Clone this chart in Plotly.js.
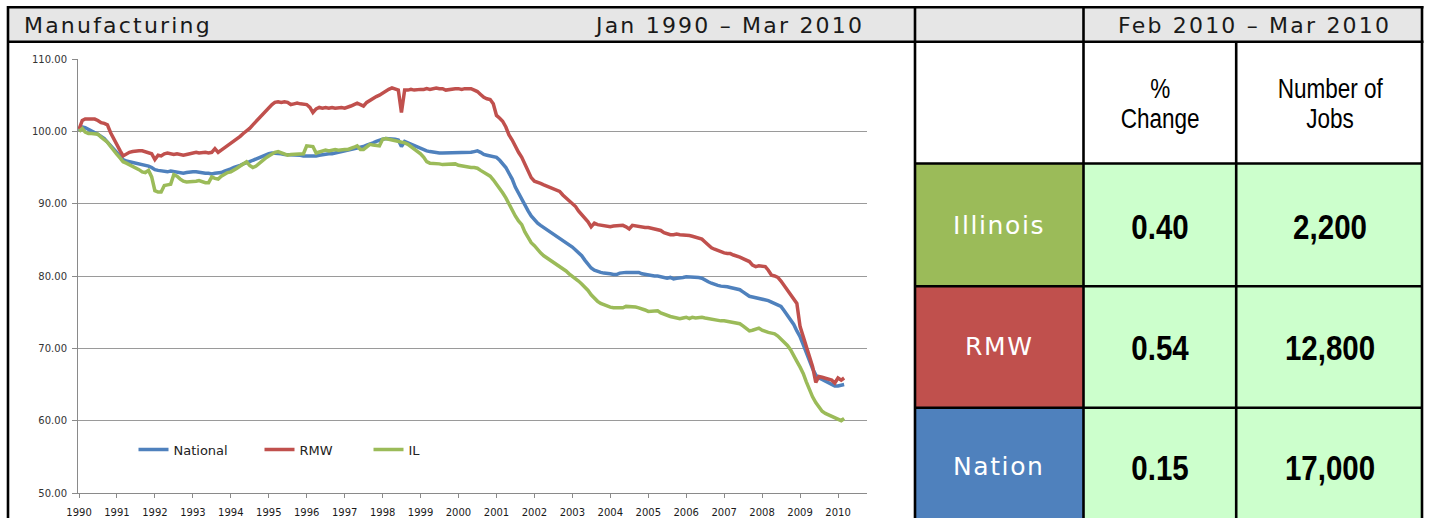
<!DOCTYPE html>
<html><head><meta charset="utf-8">
<script src="https://cdn.plot.ly/plotly-3.0.1.min.js"></script>
<style>html,body{margin:0;padding:0;background:#fff;} #chart{width:1434px;height:518px;}</style>
</head><body><div id="chart"></div>
<script>
// ---------- DATA ----------
const chartTitle = 'Manufacturing';
const chartPeriod = 'Jan 1990 – Mar 2010';
const tablePeriod = 'Feb 2010 – Mar 2010';
const seriesNames = ['National', 'RMW', 'IL'];
const yearTicks = ['1990','1991','1992','1993','1994','1995','1996','1997','1998','1999','2000','2001','2002','2003','2004','2005','2006','2007','2008','2009','2010'];
const yTicks = [50, 60, 70, 80, 90, 100, 110];
const startYear = 1990;

const national = [
100.0,100.6,100.5,100.3,100.1,99.9,99.6,99.3,99.0,98.5,98.0,97.5,
96.9,96.4,96.1,95.9,95.8,95.8,95.7,95.6,95.5,95.4,95.2,95.0,
94.7,94.6,94.5,94.4,94.4,94.5,94.4,94.3,94.2,94.2,94.3,94.4,
94.4,94.4,94.3,94.2,94.2,94.2,94.1,94.2,94.2,94.3,94.5,94.6,
94.8,95.0,95.2,95.3,95.5,95.6,95.8,96.0,96.2,96.3,96.5,96.7,
96.9,97.0,97.0,97.0,96.9,96.8,96.8,96.7,96.8,96.7,96.7,96.6,
96.6,96.5,96.6,96.6,96.7,96.8,96.8,96.9,96.9,97.0,97.0,97.1,
97.2,97.3,97.4,97.5,97.6,97.7,97.9,98.1,98.2,98.4,98.6,98.8,
98.9,99.0,99.0,99.0,98.9,98.8,97.9,98.6,98.4,98.2,98.0,97.8,
97.6,97.5,97.3,97.2,97.1,97.0,97.0,97.0,97.0,97.0,97.1,97.0,
97.0,97.1,97.1,97.1,97.1,97.2,97.3,97.1,96.8,96.7,96.6,96.5,
96.4,96.0,95.6,95.0,94.2,93.4,92.3,91.4,90.6,89.8,89.0,88.3,
87.7,87.3,87.0,86.7,86.4,86.1,85.9,85.5,85.2,84.9,84.6,84.3,
84.0,83.6,83.2,82.8,82.2,81.6,81.1,80.8,80.6,80.5,80.4,80.4,
80.3,80.2,80.2,80.4,80.5,80.5,80.5,80.5,80.5,80.5,80.3,80.2,
80.2,80.1,80.0,80.0,79.9,79.8,79.7,79.8,79.6,79.7,79.7,79.8,
79.9,79.9,79.9,79.9,79.8,79.7,79.4,79.2,79.0,78.8,78.7,78.6,
78.6,78.5,78.4,78.3,78.2,78.1,77.8,77.5,77.2,77.1,77.0,76.9,
76.9,76.8,76.6,76.4,76.2,76.0,75.8,75.2,74.6,74.0,73.3,72.4,
71.6,70.5,69.4,68.2,67.2,66.3,65.9,65.7,65.5,65.2,65.0,64.8,
64.8,64.9,65.0
];

const rmw = [
100.3,101.5,101.7,101.7,101.6,101.7,101.5,101.2,101.1,100.9,99.8,98.9,
98.0,97.3,96.6,96.9,97.1,97.2,97.3,97.3,97.3,97.2,97.0,96.9,
96.1,96.7,96.6,96.9,97.0,96.9,96.8,96.9,96.8,96.7,96.8,96.9,
97.0,97.1,97.0,97.1,97.1,97.0,97.1,97.6,97.1,97.4,97.7,98.0,
98.4,98.7,99.0,99.3,99.7,100.0,100.4,100.9,101.4,101.8,102.3,102.8,
103.3,103.7,104.0,104.1,104.0,104.1,104.0,103.7,103.8,103.9,103.8,103.8,
103.7,103.3,102.6,103.1,103.3,103.2,103.3,103.2,103.3,103.2,103.3,103.3,
103.2,103.3,103.5,103.7,103.9,103.7,103.5,104.0,104.3,104.6,104.8,105.0,
105.3,105.6,105.8,106.0,105.9,105.7,102.6,105.7,105.7,105.8,105.7,105.8,
105.8,105.8,105.9,105.8,105.9,106.0,105.9,105.9,105.7,105.8,105.9,105.9,
105.9,105.8,105.9,105.9,105.9,105.7,105.5,105.1,104.7,104.5,104.4,103.8,
102.2,101.8,101.4,100.6,99.5,98.8,97.9,97.1,96.4,95.4,94.4,93.6,
93.1,93.0,92.8,92.6,92.4,92.2,92.1,91.9,91.7,91.2,90.8,90.5,
90.1,89.6,89.0,88.5,88.0,87.5,86.8,87.3,87.1,87.0,86.9,86.8,
86.8,86.9,86.9,87.0,87.0,86.8,86.5,87.0,86.9,86.8,86.8,86.7,
86.7,86.6,86.6,86.5,86.3,86.0,85.8,85.7,85.7,85.8,85.7,85.7,
85.7,85.6,85.5,85.4,85.3,85.1,84.7,84.3,83.9,83.7,83.5,83.3,
83.2,83.1,83.1,82.9,82.8,82.6,82.4,82.2,82.0,81.5,81.3,81.4,
81.3,81.3,80.8,80.1,80.0,79.8,79.3,78.7,78.0,77.4,76.9,76.2,
73.0,71.5,70.3,68.9,67.5,65.3,66.1,66.0,65.9,65.8,65.6,65.2,
65.9,65.6,65.9
];

const il = [
100.0,100.4,99.9,99.7,99.7,99.7,99.6,99.2,98.9,98.5,97.9,97.3,
96.8,96.3,95.8,95.6,95.4,95.2,95.0,94.7,94.4,94.3,94.6,93.7,
91.8,91.6,91.6,92.5,92.6,92.7,94.0,93.8,93.4,93.1,93.0,93.0,
93.1,93.1,93.2,93.0,92.9,92.9,93.7,93.5,93.4,93.8,94.1,94.3,
94.4,94.6,94.9,95.2,95.5,95.8,95.3,95.0,95.2,95.6,96.0,96.3,
96.6,96.9,97.1,97.2,97.0,96.8,96.7,96.8,96.8,96.9,96.9,96.9,
98.0,97.9,97.9,97.0,97.1,97.3,97.4,97.3,97.4,97.5,97.4,97.5,
97.5,97.5,97.6,97.8,98.0,97.5,97.5,97.9,98.2,98.1,98.0,98.0,
98.9,99.0,98.9,98.8,98.7,98.6,98.6,98.4,98.2,97.9,97.6,97.2,
96.9,96.4,95.8,95.6,95.6,95.5,95.5,95.4,95.4,95.4,95.5,95.5,
95.3,95.2,95.2,95.1,95.0,95.0,94.9,94.6,94.3,94.1,93.8,93.3,
92.7,92.2,91.5,90.8,89.9,89.1,88.3,87.6,87.1,86.1,85.3,84.6,
84.2,83.6,83.2,82.8,82.5,82.2,82.0,81.7,81.4,81.1,80.7,80.3,
80.0,79.6,79.3,78.9,78.5,78.0,77.4,76.9,76.5,76.2,76.0,75.8,
75.7,75.6,75.6,75.5,75.6,75.8,75.8,75.7,75.7,75.6,75.5,75.3,
75.1,75.1,75.2,75.2,74.9,74.7,74.5,74.4,74.3,74.2,74.1,74.2,
74.3,74.1,74.3,74.2,74.3,74.3,74.2,74.1,74.0,73.9,73.9,73.8,
73.8,73.7,73.6,73.6,73.5,73.4,73.1,72.8,72.4,72.5,72.7,72.8,
72.5,72.3,72.2,72.1,72.0,71.7,71.3,70.9,70.4,69.8,69.1,68.2,
67.4,66.5,65.4,64.2,63.3,62.5,61.8,61.3,61.0,60.8,60.6,60.4,
60.1,60.0,60.3
];

const rowLabels = ['Illinois', 'RMW', 'Nation'];
const pctChange = ['0.40', '0.54', '0.15'];
const jobsChange = ['2,200', '12,800', '17,000'];
const pctHeader = ['%', 'Change'];
const jobsHeader = ['Number of', 'Jobs'];

// ---------- BUILD ----------
const months = national.map((_, i) => {
  const y = startYear + Math.floor(i / 12);
  const m = (i % 12) + 1;
  return y + '-' + (m < 10 ? '0' + m : m) + '-01';
});

const colors = ['#4F81BD', '#C0504D', '#9BBB59'];
const legendIds = ['legend', 'legend2', 'legend3'];
const seriesData = [national, rmw, il];
const traces = seriesData.map((vals, k) => ({
  type: 'scatter', mode: 'lines', name: seriesNames[k],
  x: months, y: vals, legend: legendIds[k],
  line: { color: colors[k], width: 3.5 },
  hoverinfo: 'skip'
}));

const W = 1434, H = 518;
const X = p => p / W;
const Y = p => 1 - p / H;

function rect(x0, y0, x1, y1, fill) {
  return { type: 'rect', xref: 'paper', yref: 'paper', x0: X(x0), x1: X(x1), y0: Y(y1), y1: Y(y0),
           fillcolor: fill, line: { width: 0 }, layer: 'below' };
}
function seg(x0, y0, x1, y1) {
  return { type: 'line', xref: 'paper', yref: 'paper', x0: X(x0), x1: X(x1), y0: Y(y0), y1: Y(y1),
           line: { color: '#000', width: 2.6 }, layer: 'above' };
}

const rowTop = [164, 286, 408];
const rowBot = [286, 408, 530];
const rowMid = [226, 347, 467];
const shapes = [
  rect(8, 7, 1422, 42, '#E6E6E6'),
  rect(1083, 164, 1422, 530, '#CCFFCC'),
];
rowLabels.forEach((_, i) => shapes.push(rect(915, rowTop[i], 1083, rowBot[i], ['#9BBB59', '#C0504D', '#4F81BD'][i])));
shapes.push(
  seg(7, 7.2, 1423.5, 7.2),
  seg(7, 41.8, 1423.5, 41.8),
  seg(8, 6, 8, 530),
  seg(915, 6, 915, 530),
  seg(1083.5, 6, 1083.5, 530),
  seg(1236.2, 41.8, 1236.2, 530),
  seg(1422, 6, 1422, 530),
  seg(915, 163.5, 1422, 163.5),
  seg(915, 286.2, 1422, 286.2),
  seg(915, 407.8, 1422, 407.8)
);

const hdrFont = { family: 'DejaVu Sans, Verdana, sans-serif', size: 22, color: '#1a1a1a' };
const arial = 'Liberation Sans, Arial, sans-serif';
function ann(x, y, text, font, xanchor) {
  return { xref: 'paper', yref: 'paper', x: X(x), y: Y(y), text: text, showarrow: false,
           xanchor: xanchor || 'center', yanchor: 'middle', font: font };
}
const spaced = (t, s) => '<span style="letter-spacing:' + s + 'px">' + t + '</span>';
const annotations = [
  ann(22, 25, spaced(chartTitle, 2.2), hdrFont, 'left'),
  ann(866, 25, spaced(chartPeriod, 2.2), hdrFont, 'right'),
  ann(1254, 25, spaced(tablePeriod, 2.2), hdrFont, 'center')
];
const narrowIdx = [];
function narrowAnn(x, y, text, size, weight) {
  narrowIdx.push(annotations.length);
  annotations.push(ann(x, y, text, { family: arial, size: size, color: '#000', weight: weight || 400 }));
}
narrowAnn(1160, 88, pctHeader[0], 27.5);
narrowAnn(1160, 118.5, pctHeader[1], 27.5);
narrowAnn(1330, 88, jobsHeader[0], 27.5);
narrowAnn(1330, 118.5, jobsHeader[1], 27.5);
rowLabels.forEach((lab, i) => {
  annotations.push(ann(999, rowMid[i] - 1, spaced(lab, 1.6), { family: 'DejaVu Sans, Verdana, sans-serif', size: 25, color: '#ffffff' }));
  narrowAnn(1160, rowMid[i], pctChange[i], 36, 700);
  narrowAnn(1330, rowMid[i], jobsChange[i], 36, 700);
});

const legendBase = {
  orientation: 'h', y: Y(449.5), xanchor: 'left', yanchor: 'middle',
  bgcolor: 'rgba(0,0,0,0)', borderwidth: 0, itemwidth: 30,
  font: { family: 'DejaVu Sans, Verdana, sans-serif', size: 13, color: '#222' }
};

const layout = {
  width: W, height: H,
  margin: { l: 0, r: 0, t: 0, b: 0, pad: 0 },
  paper_bgcolor: '#ffffff', plot_bgcolor: '#ffffff',
  showlegend: true,
  legend: Object.assign({}, legendBase, { x: X(133.5) }),
  legend2: Object.assign({}, legendBase, { x: X(259.5) }),
  legend3: Object.assign({}, legendBase, { x: X(368.5) }),
  xaxis: {
    type: 'date', domain: [X(78), X(867)],
    range: ['1989-12-22', '2010-10-07'],
    tickmode: 'array', tickvals: yearTicks.map(y => y + '-01-01'), ticktext: yearTicks,
    ticks: 'outside', ticklen: 4, tickcolor: '#8a8a8a', tickwidth: 1,
    showline: true, linecolor: '#8a8a8a', linewidth: 1,
    showgrid: false, zeroline: false, ticklabelstandoff: 6,
    tickfont: { family: 'DejaVu Sans, Verdana, sans-serif', size: 10, color: '#1a1a1a' }
  },
  yaxis: {
    domain: [Y(493), Y(59)], range: [50, 110],
    tickmode: 'array', tickvals: yTicks, ticktext: yTicks.map(v => v.toFixed(2)),
    ticks: 'outside', ticklen: 5, tickcolor: '#8a8a8a', tickwidth: 1,
    showline: true, linecolor: '#8a8a8a', linewidth: 1,
    showgrid: true, gridcolor: '#9a9a9a', gridwidth: 1, zeroline: false,
    ticklabelstandoff: 3,
    tickfont: { family: 'DejaVu Sans, Verdana, sans-serif', size: 10, color: '#333' }
  },
  shapes: shapes,
  annotations: annotations
};

function narrowText() {
  document.querySelectorAll('#chart g.annotation').forEach(g => {
    const idx = parseInt(g.getAttribute('data-index'), 10);
    if (narrowIdx.indexOf(idx) < 0) return;
    const t = g.querySelector('text.annotation-text');
    if (!t) return;
    const bb = t.getBBox();
    const cx = bb.x + bb.width / 2;
    const prev = t.getAttribute('transform') || '';
    t.setAttribute('transform', prev + ' translate(' + cx + ',0) scale(0.82,1) translate(' + (-cx) + ',0)');
  });
}

Plotly.newPlot('chart', traces, layout, { staticPlot: true, displayModeBar: false }).then(narrowText);
</script>
</body></html>
